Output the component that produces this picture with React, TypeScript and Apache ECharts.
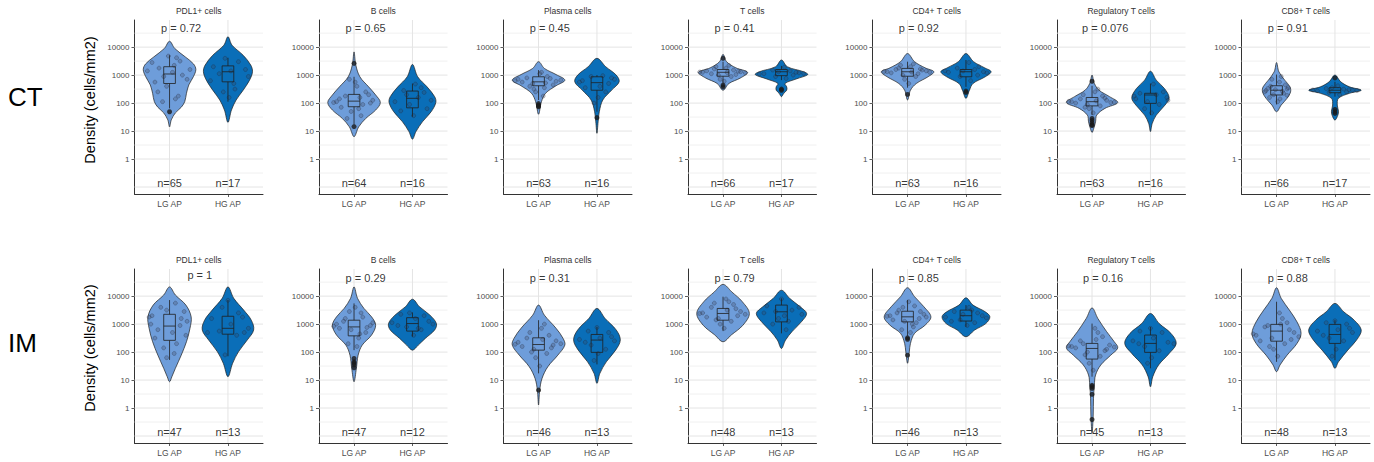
import React, { useEffect, useRef } from "react";
import * as echarts from "echarts";

// ---------- data ----------
const groups = ["LG AP", "HG AP"];
const regions = ["CT", "IM"];
const cellTypes = ["PDL1+ cells", "B cells", "Plasma cells", "T cells", "CD4+ T cells", "Regulatory T cells", "CD8+ T cells"];
const yTickValues = [0, 1, 2, 3, 4]; // log10 of density
const yTickLabels = ["1", "10", "100", "1000", "10000"];
const gridMajor = [-1, 0, 1, 2, 3, 4];
const gridMinor = [-0.5, 0.5, 1.5, 2.5, 3.5, 4.5];

const pLabelsCT = ["p = 0.72", "p = 0.65", "p = 0.45", "p = 0.41", "p = 0.92", "p = 0.076", "p = 0.91"];
const pLabelsIM = ["p = 1", "p = 0.29", "p = 0.31", "p = 0.79", "p = 0.85", "p = 0.16", "p = 0.88"];
const pPosCT = [[0.855, 4.67], [0.855, 4.67], [0.85, 4.67], [0.855, 4.67], [0.85, 4.67], [0.83, 4.67], [0.85, 4.67]];
const pPosIM = [[1.306, 4.77], [0.855, 4.64], [0.85, 4.64], [0.855, 4.64], [0.85, 4.64], [0.845, 4.64], [0.85, 4.64]];
const nCT = [[65, 17], [64, 16], [63, 16], [66, 17], [63, 16], [63, 16], [66, 17]];
const nIM = [[47, 13], [47, 12], [46, 13], [48, 13], [46, 13], [45, 13], [48, 13]];

// violin outlines: [log10 density, half width (x units)]
const violinCT = [
  [[[1.15,0],[1.4,0.03],[1.65,0.10],[1.85,0.20],[2.05,0.26],[2.35,0.29],[2.65,0.33],[2.95,0.41],[3.2,0.45],[3.4,0.41],[3.65,0.27],[3.95,0.09],[4.21,0]],
   [[1.31,0],[1.75,0.06],[2.11,0.14],[2.46,0.26],[2.82,0.37],[3.12,0.42],[3.36,0.39],[3.71,0.26],[4.07,0.07],[4.37,0]]],
  [[[0.80,0],[1.15,0.08],[1.45,0.20],[1.75,0.37],[2.02,0.45],[2.29,0.37],[2.58,0.25],[2.94,0.10],[3.36,0.03],[3.83,0]],
   [[0.71,0],[0.98,0.06],[1.33,0.17],[1.69,0.32],[2.02,0.40],[2.23,0.38],[2.58,0.25],[2.94,0.09],[3.38,0]]],
  [[[1.6,0],[2.05,0.05],[2.35,0.12],[2.62,0.30],[2.82,0.45],[3.02,0.30],[3.24,0.10],[3.48,0]],
   [[0.92,0],[1.33,0.02],[1.69,0.04],[2.11,0.10],[2.46,0.25],[2.76,0.38],[3.0,0.33],[3.30,0.15],[3.6,0]]],
  [[[2.46,0],[2.70,0.10],[2.90,0.30],[3.10,0.42],[3.26,0.22],[3.48,0.06],[3.74,0]],
   [[2.23,0],[2.35,0.04],[2.46,0.09],[2.58,0.09],[2.70,0.06],[2.86,0.25],[3.02,0.45],[3.12,0.38],[3.30,0.10],[3.54,0]]],
  [[[2.11,0],[2.46,0.05],[2.70,0.15],[2.94,0.35],[3.12,0.45],[3.26,0.30],[3.48,0.12],[3.77,0]],
   [[2.17,0],[2.46,0.06],[2.70,0.12],[2.94,0.33],[3.12,0.43],[3.26,0.32],[3.48,0.13],[3.77,0]]],
  [[[0.95,0],[1.10,0.03],[1.33,0.06],[1.57,0.08],[1.81,0.22],[2.02,0.44],[2.23,0.30],[2.46,0.12],[2.70,0.04],[3.0,0]],
   [[0.98,0],[1.27,0.03],[1.57,0.10],[1.93,0.25],[2.19,0.32],[2.52,0.24],[2.82,0.10],[3.14,0]]],
  [[[1.69,0],[1.93,0.08],[2.17,0.18],[2.40,0.24],[2.58,0.23],[2.82,0.14],[3.12,0.04],[3.45,0]],
   [[1.39,0],[1.57,0.05],[1.71,0.06],[1.93,0.04],[2.17,0.06],[2.35,0.25],[2.46,0.45],[2.58,0.25],[2.76,0.10],[3.0,0]]],
];
const violinIM = [
  [[[0.94,0],[1.12,0.04],[1.42,0.10],[1.89,0.20],[2.37,0.29],[2.85,0.35],[3.26,0.37],[3.68,0.28],[4.04,0.10],[4.33,0]],
   [[1.12,0],[1.6,0.08],[2.01,0.18],[2.43,0.33],[2.79,0.44],[3.14,0.40],[3.50,0.27],[3.92,0.10],[4.33,0]]],
  [[[0.94,0],[1.42,0.04],[1.89,0.07],[2.25,0.14],[2.61,0.30],[2.96,0.37],[3.26,0.30],[3.56,0.17],[3.92,0.06],[4.33,0]],
   [[2.07,0],[2.25,0.10],[2.49,0.22],[2.79,0.38],[3.02,0.41],[3.32,0.30],[3.62,0.12],[3.89,0]]],
  [[[0.11,0],[0.64,0.02],[1.06,0.06],[1.48,0.16],[1.89,0.33],[2.25,0.45],[2.49,0.42],[2.85,0.30],[3.32,0.10],[3.68,0]],
   [[0.88,0],[1.24,0.05],[1.65,0.16],[2.07,0.32],[2.43,0.40],[2.79,0.33],[3.20,0.14],[3.56,0]]],
  [[[2.37,0],[2.61,0.14],[2.96,0.34],[3.38,0.45],[3.80,0.33],[4.15,0.15],[4.42,0]],
   [[2.13,0],[2.43,0.07],[2.73,0.18],[3.08,0.34],[3.38,0.43],[3.62,0.32],[3.92,0.14],[4.21,0]]],
  [[[1.60,0],[2.01,0.03],[2.31,0.05],[2.67,0.12],[2.96,0.30],[3.26,0.40],[3.62,0.28],[3.98,0.12],[4.30,0]],
   [[2.55,0],[2.79,0.15],[3.02,0.34],[3.26,0.41],[3.44,0.33],[3.68,0.12],[3.94,0]]],
  [[[-0.89,0],[-0.25,0.02],[0.35,0.025],[0.82,0.04],[1.18,0.06],[1.54,0.15],[1.89,0.32],[2.15,0.44],[2.37,0.38],[2.73,0.25],[3.20,0.10],[3.58,0]],
   [[0.76,0],[1.12,0.04],[1.54,0.14],[1.95,0.32],[2.31,0.44],[2.67,0.35],[3.02,0.15],[3.38,0]]],
  [[[1.30,0],[1.54,0.06],[1.89,0.18],[2.31,0.35],[2.67,0.42],[3.08,0.35],[3.50,0.22],[3.92,0.08],[4.30,0]],
   [[1.42,0],[1.65,0.06],[2.07,0.22],[2.43,0.37],[2.79,0.45],[3.14,0.33],[3.44,0.15],[3.74,0]]],
];

// box stats: [lower whisker, q1, median, q3, upper whisker] (log10)
const boxCT = [
  [[1.81,2.70,3.04,3.30,3.71],[2.05,2.76,3.12,3.33,3.62]],
  [[1.25,1.87,2.07,2.31,2.94],[1.51,1.83,2.17,2.43,2.70]],
  [[2.11,2.62,2.76,2.94,3.18],[1.69,2.46,2.73,2.94,3.00]],
  [[2.70,2.96,3.10,3.20,3.48],[2.82,2.98,3.12,3.20,3.33]],
  [[2.55,2.96,3.12,3.24,3.48],[2.58,2.94,3.12,3.20,3.54]],
  [[1.57,1.90,2.05,2.20,2.62],[1.57,1.99,2.29,2.35,2.70]],
  [[1.95,2.29,2.46,2.62,3.02],[2.23,2.37,2.46,2.55,2.76]],
];
const boxIM = [
  [[1.72,2.42,2.93,3.35,3.86],[1.85,2.64,2.85,3.28,3.86]],
  [[2.07,2.58,2.90,3.14,3.74],[2.55,2.75,3.02,3.23,3.42]],
  [[1.24,2.07,2.27,2.51,3.14],[1.56,1.99,2.43,2.63,2.90]],
  [[2.75,3.14,3.38,3.56,3.98],[2.67,3.08,3.44,3.68,3.92]],
  [[2.58,3.08,3.26,3.46,3.86],[2.90,3.11,3.30,3.50,3.68]],
  [[1.12,1.75,2.13,2.31,3.02],[1.42,1.99,2.31,2.61,2.90]],
  [[1.65,2.39,2.75,2.99,3.80],[1.71,2.31,2.63,2.99,3.14]],
];

const outliersCT = [
  [[1.69], []],
  [[3.42, 1.16], []],
  [[1.98, 1.93, 1.90, 1.87], [1.48]],
  [[3.60, 2.64, 2.58], [2.46, 2.50]],
  [[2.31], [2.43, 2.38]],
  [[2.78, 1.45, 1.38, 1.30, 1.23, 1.20], []],
  [[], [2.90, 1.77, 1.69, 1.63]],
];
const outliersIM = [
  [[], []],
  [[1.77, 1.65, 1.60, 1.54, 1.44], []],
  [[0.64], []],
  [[], []],
  [[2.51, 2.46, 1.89], []],
  [[0.81, 0.76, 0.70, 0.49, -0.41], []],
  [[], []],
];

// jittered observations: [x offset, log10 density]
const jitterCT = [
  [[[-0.30,3.45],[0.12,3.62],[0.35,3.20],[-0.18,3.25],[0.05,3.10],[-0.38,3.15],[0.22,3.00],[-0.10,2.95],[0.30,2.85],[-0.25,2.75],[0.08,3.35],[0.18,3.50],[-0.05,2.60],[-0.20,2.40],[0.15,2.25],[-0.12,2.05],[0.10,2.15],[-0.02,3.68]],
   [[-0.05,3.60],[0.18,3.48],[-0.25,3.30],[0.30,3.20],[0.05,3.15],[-0.15,3.05],[0.35,2.95],[-0.30,2.80],[0.10,2.70],[-0.08,2.40],[0.02,2.20],[0.12,2.50]]],
  [[[-0.30,2.05],[0.32,2.10],[-0.15,2.25],[0.20,2.40],[0.05,2.60],[-0.08,2.85],[0.15,1.95],[-0.22,1.85],[0.28,2.00],[-0.35,2.02],[0.10,2.20],[-0.05,1.70],[0.12,1.55],[-0.12,1.45],[0.02,2.75],[0.25,2.30],[-0.25,2.15],[0.08,1.80]],
   [[0.05,2.68],[-0.15,2.45],[0.20,2.38],[0.32,2.10],[-0.30,2.05],[0.10,2.20],[-0.05,1.95],[0.25,1.80],[-0.20,1.72],[0.02,1.55],[0.15,2.55],[-0.10,2.30]]],
  [[[-0.35,2.85],[0.30,2.78],[-0.20,2.90],[0.15,2.95],[0.05,3.10],[-0.10,2.70],[0.25,2.65],[-0.28,2.75],[0.38,2.82],[0.10,2.55],[-0.05,2.40],[0.08,2.25],[-0.15,2.60],[0.20,2.88],[-0.40,2.80],[0.02,3.05],[0.12,2.72],[-0.08,2.50]],
   [[0.10,2.98],[0.30,2.85],[-0.25,2.80],[0.20,2.70],[-0.10,2.95],[0.05,2.60],[-0.20,2.55],[0.15,2.40],[0.02,2.20],[-0.05,2.00],[0.25,2.90],[-0.30,2.75]]],
  [[[-0.35,3.10],[0.30,3.12],[-0.20,3.05],[0.18,3.18],[0.05,3.25],[-0.08,3.00],[0.22,3.02],[-0.28,3.15],[0.38,3.08],[0.10,3.35],[-0.05,2.85],[0.02,2.78],[-0.15,3.22],[0.14,2.95],[-0.40,3.11],[0.26,3.14],[-0.12,3.30],[0.07,3.09]],
   [[0.30,3.08],[-0.30,3.05],[0.15,3.15],[-0.15,3.18],[0.05,3.28],[0.20,3.00],[-0.10,2.95],[0.38,3.06],[-0.38,3.04],[0.08,2.88],[-0.05,3.12],[0.25,3.10]]],
  [[[-0.35,3.12],[0.32,3.15],[-0.20,3.20],[0.18,3.05],[0.05,3.30],[-0.08,3.00],[0.25,3.18],[-0.28,3.08],[0.38,3.10],[0.10,3.40],[-0.05,2.85],[0.02,2.70],[-0.15,3.25],[0.14,2.95],[-0.40,3.13],[0.22,3.22],[-0.12,3.35],[0.07,3.11]],
   [[0.30,3.12],[-0.30,3.10],[0.15,3.20],[-0.15,3.25],[0.05,3.45],[0.20,3.00],[-0.10,2.95],[0.36,3.08],[-0.36,3.15],[0.08,2.80],[-0.05,3.15],[0.22,3.30]]],
  [[[-0.35,2.05],[0.32,2.02],[-0.20,2.15],[0.18,2.25],[0.05,2.40],[-0.08,1.95],[0.25,2.10],[-0.28,2.00],[0.38,2.03],[0.10,2.50],[-0.05,1.80],[0.02,1.65],[-0.15,2.30],[0.14,1.90],[-0.40,2.06],[0.22,2.18],[-0.12,1.85],[0.07,2.08]],
   [[0.05,2.68],[0.22,2.40],[-0.18,2.35],[0.28,2.20],[-0.25,2.15],[0.10,2.30],[-0.05,2.05],[0.15,1.95],[-0.10,1.80],[0.02,1.65],[0.30,2.10],[-0.28,2.25]]],
  [[[-0.18,2.45],[0.18,2.50],[-0.10,2.60],[0.12,2.35],[0.05,2.75],[-0.05,2.30],[0.20,2.55],[-0.20,2.40],[0.08,2.95],[-0.12,2.20],[0.02,2.05],[0.15,2.65],[-0.15,2.52],[0.10,2.42],[-0.08,2.85],[0.18,2.28],[-0.02,2.48],[0.06,2.15]],
   [[0.30,2.46],[-0.30,2.44],[0.15,2.50],[-0.15,2.52],[0.05,2.62],[0.20,2.40],[-0.10,2.38],[0.38,2.45],[-0.38,2.47],[0.08,2.30],[-0.05,2.55],[0.24,2.48]]],
];
const jitterIM = [
  [[[-0.30,3.30],[0.25,3.45],[-0.15,3.60],[0.10,3.75],[-0.05,3.50],[0.30,3.10],[-0.32,3.00],[0.18,2.95],[-0.20,2.80],[0.05,2.70],[0.28,2.60],[-0.25,2.50],[0.12,2.30],[-0.10,2.15],[0.08,1.95],[-0.05,1.80],[0.20,3.20],[-0.35,3.25]],
   [[0.0,3.85],[-0.10,3.60],[0.18,3.40],[-0.28,3.20],[0.25,3.25],[0.05,3.00],[-0.35,2.70],[0.35,2.85],[0.15,2.60],[-0.15,2.75],[0.28,2.70],[-0.05,1.90]]],
  [[[-0.30,3.00],[0.28,2.95],[-0.15,3.20],[0.12,3.40],[0.02,3.60],[-0.05,2.80],[0.20,2.70],[-0.25,2.85],[0.32,3.05],[0.08,2.50],[-0.10,2.30],[0.05,2.20],[-0.18,3.10],[0.15,3.25],[-0.35,2.92],[0.22,2.88],[-0.08,3.45],[0.10,2.65]],
   [[-0.20,3.35],[0.20,3.30],[-0.35,3.05],[0.35,3.00],[0.05,3.20],[-0.10,2.90],[0.15,2.80],[-0.25,2.95],[0.28,3.10],[0.02,2.60],[-0.05,3.40],[0.10,2.85]]],
  [[[-0.35,2.35],[0.30,2.40],[-0.20,2.50],[0.18,2.60],[0.05,2.85],[-0.08,2.10],[0.25,2.25],[-0.28,2.20],[0.38,2.30],[0.10,3.00],[-0.05,1.80],[0.02,1.50],[-0.15,2.70],[0.14,1.95],[-0.40,2.28],[0.22,2.15],[-0.12,2.00],[0.07,2.45]],
   [[0.0,2.88],[-0.15,2.75],[0.20,2.70],[-0.30,2.45],[0.30,2.40],[0.05,2.50],[-0.10,2.25],[0.15,2.10],[0.02,1.95],[-0.20,2.35],[0.25,2.55],[-0.05,1.70]]],
  [[[-0.35,3.40],[0.30,3.45],[-0.20,3.60],[0.18,3.70],[0.05,3.90],[-0.08,3.20],[0.25,3.30],[-0.28,3.25],[0.38,3.35],[0.10,3.80],[-0.05,3.00],[0.02,2.85],[-0.15,3.75],[0.14,3.10],[-0.40,3.38],[0.22,3.55],[-0.12,3.15],[0.07,3.50]],
   [[0.0,3.90],[0.30,3.60],[-0.25,3.65],[0.18,3.50],[-0.10,3.45],[0.05,3.30],[-0.30,3.40],[0.35,3.35],[0.12,3.10],[-0.15,3.00],[0.08,2.80],[-0.05,3.20]]],
  [[[-0.30,3.30],[0.28,3.35],[-0.15,3.50],[0.12,3.65],[0.02,3.80],[-0.05,3.10],[0.20,3.20],[-0.25,3.15],[0.32,3.25],[0.08,3.00],[-0.10,2.80],[0.05,2.70],[-0.18,3.40],[0.15,3.05],[-0.35,3.28],[0.22,3.45],[-0.08,3.60],[0.10,2.90]],
   [[-0.20,3.45],[0.20,3.40],[-0.35,3.25],[0.35,3.22],[0.05,3.60],[-0.10,3.15],[0.15,3.05],[-0.25,3.10],[0.28,3.30],[0.02,2.95],[-0.05,3.35],[0.10,3.50]]],
  [[[-0.35,2.20],[0.30,2.25],[-0.20,2.40],[0.18,2.55],[0.05,2.85],[-0.08,2.00],[0.25,2.10],[-0.28,2.15],[0.38,2.18],[0.10,2.70],[-0.05,1.60],[0.02,1.35],[-0.15,2.30],[0.14,1.85],[-0.40,2.22],[0.22,2.05],[-0.12,1.90],[0.07,2.45]],
   [[0.0,2.85],[-0.18,2.75],[0.20,2.70],[-0.30,2.40],[0.30,2.35],[0.05,2.50],[-0.10,2.20],[0.15,2.05],[0.02,1.80],[-0.20,2.30],[0.40,2.30],[-0.05,1.60]]],
  [[[-0.35,2.60],[0.30,2.70],[-0.20,2.90],[0.18,3.05],[0.05,3.40],[-0.08,2.50],[0.25,2.45],[-0.28,2.40],[0.38,2.55],[0.10,3.20],[-0.05,2.10],[0.02,1.85],[-0.15,2.95],[0.14,2.30],[-0.40,2.65],[0.22,2.80],[-0.12,2.20],[0.07,3.00]],
   [[0.0,3.12],[-0.15,3.05],[0.20,3.00],[-0.30,2.75],[0.30,2.70],[0.05,2.80],[-0.10,2.50],[0.15,2.40],[0.02,2.10],[-0.20,2.60],[0.25,2.85],[-0.05,1.85]]],
];

// ---------- layout / style ----------
const PANEL_LEFT0 = 134.5;
const PANEL_STEP = 184.5;
const PANEL_W = 128.5;
const PANEL_H = 174;
const ROW_TOP = [20, 269];
const X_MIN = 0.4, X_MAX = 2.6, Y_MIN = -1.25, Y_MAX = 4.97;
const FILLS = ["#6e9dda", "#0a6eb8"];
const FONT = "Liberation Sans, Arial, Helvetica, sans-serif";

export default function App() {
  const ref = useRef<HTMLDivElement>(null);

  useEffect(() => {
    if (!ref.current) return;
    const chart = echarts.init(ref.current, undefined, { renderer: "svg" });

    const grids: any[] = [];
    const xAxes: any[] = [];
    const yAxes: any[] = [];
    const series: any[] = [];
    const graphics: any[] = [];

    const rowData = [
      { violin: violinCT, box: boxCT, out: outliersCT, jit: jitterCT, p: pLabelsCT, pPos: pPosCT, n: nCT },
      { violin: violinIM, box: boxIM, out: outliersIM, jit: jitterIM, p: pLabelsIM, pPos: pPosIM, n: nIM },
    ];

    let k = 0;
    for (let r = 0; r < 2; r++) {
      const rd = rowData[r];
      for (let c = 0; c < cellTypes.length; c++) {
        const left = PANEL_LEFT0 + c * PANEL_STEP;
        const top = ROW_TOP[r];
        grids.push({ left, top, width: PANEL_W, height: PANEL_H, containLabel: false });
        xAxes.push({
          gridIndex: k, type: "value", min: X_MIN, max: X_MAX,
          axisLine: { show: true, onZero: false, lineStyle: { color: "#333", width: 1 } },
          axisTick: { show: true, customValues: [1, 2], length: 3, lineStyle: { color: "#333", width: 0.8 } },
          axisLabel: {
            show: true, customValues: [1, 2], margin: 5, fontSize: 8.5, color: "#4d4d4d", fontFamily: FONT,
            formatter: (v: number) => (Math.abs(v - 1) < 1e-6 ? groups[0] : Math.abs(v - 2) < 1e-6 ? groups[1] : ""),
          },
          splitLine: { show: false },
        });
        yAxes.push({
          gridIndex: k, type: "value", min: Y_MIN, max: Y_MAX,
          axisLine: { show: true, onZero: false, lineStyle: { color: "#333", width: 1 } },
          axisTick: { show: true, customValues: yTickValues, length: 3, lineStyle: { color: "#333", width: 0.8 } },
          axisLabel: {
            show: true, customValues: yTickValues, margin: 5, fontSize: 8, color: "#4d4d4d", fontFamily: FONT,
            formatter: (v: number) => {
              const i = yTickValues.findIndex((t) => Math.abs(t - v) < 1e-6);
              return i >= 0 ? yTickLabels[i] : "";
            },
          },
          splitLine: { show: false },
        });

        // gridlines
        const gl: number[][] = [];
        gridMajor.forEach((v) => gl.push([1, v, 1]));
        gridMinor.forEach((v) => gl.push([1, v, 0]));
        gl.push([1, 0, 2]);
        gl.push([2, 0, 2]);
        series.push({
          type: "custom", xAxisIndex: k, yAxisIndex: k, silent: true, z: 1,
          data: gl,
          renderItem: (_p: any, api: any) => {
            const kind = api.value(2);
            if (kind === 2) {
              const x = api.value(0);
              const a = api.coord([x, Y_MIN]);
              const b = api.coord([x, Y_MAX]);
              return { type: "line", shape: { x1: a[0], y1: a[1], x2: b[0], y2: b[1] }, style: { stroke: "#e4e4e4", lineWidth: 1 } };
            }
            const v = api.value(1);
            const a = api.coord([X_MIN, v]);
            const b = api.coord([X_MAX, v]);
            return {
              type: "line", shape: { x1: a[0], y1: a[1], x2: b[0], y2: b[1] },
              style: { stroke: kind === 1 ? "#e4e4e4" : "#ececec", lineWidth: kind === 1 ? 1 : 0.8 },
            };
          },
        });

        // violins
        const prof = rd.violin[c];
        series.push({
          type: "custom", xAxisIndex: k, yAxisIndex: k, silent: true, z: 2,
          data: [[1, 0], [2, 0]],
          renderItem: (_p: any, api: any) => {
            const cx = api.value(0);
            const gi = Math.round(cx) - 1;
            const pr = prof[gi];
            const leftPts = pr.map(([ly, hw]: number[]) => api.coord([cx - hw, ly]));
            const rightPts = pr
              .slice()
              .reverse()
              .filter((p: number[]) => p[1] > 0)
              .map(([ly, hw]: number[]) => api.coord([cx + hw, ly]));
            return {
              type: "polygon",
              shape: { points: leftPts.concat(rightPts), smooth: 0.35 },
              style: { fill: FILLS[gi], stroke: "#1f1f1f", lineWidth: 0.7 },
            };
          },
        });

        // jitter points
        const jd: number[][] = [];
        rd.jit[c].forEach((arr: number[][], gi: number) => arr.forEach(([dx, ly]) => jd.push([gi + 1 + dx, ly])));
        series.push({
          type: "scatter", xAxisIndex: k, yAxisIndex: k, silent: true, z: 3,
          symbolSize: 4, data: jd,
          itemStyle: { color: "rgba(60,65,85,0.33)", borderColor: "rgba(30,35,50,0.55)", borderWidth: 0.6 },
        });

        // boxes
        const bx = rd.box[c];
        series.push({
          type: "custom", xAxisIndex: k, yAxisIndex: k, silent: true, z: 4,
          data: [[1, 0], [2, 0]],
          renderItem: (_p: any, api: any) => {
            const cx = api.value(0);
            const gi = Math.round(cx) - 1;
            const [lo, q1, med, q3, hi] = bx[gi];
            const hw = 0.1;
            const a = api.coord([cx - hw, q3]);
            const b = api.coord([cx + hw, q1]);
            const m1 = api.coord([cx - hw, med]);
            const m2 = api.coord([cx + hw, med]);
            const t1 = api.coord([cx, q3]);
            const t2 = api.coord([cx, hi]);
            const b1 = api.coord([cx, q1]);
            const b2 = api.coord([cx, lo]);
            const st = { stroke: "#1f1f1f", lineWidth: 0.8, fill: "none" };
            return {
              type: "group",
              children: [
                { type: "line", shape: { x1: t1[0], y1: t1[1], x2: t2[0], y2: t2[1] }, style: st },
                { type: "line", shape: { x1: b1[0], y1: b1[1], x2: b2[0], y2: b2[1] }, style: st },
                { type: "rect", shape: { x: a[0], y: a[1], width: b[0] - a[0], height: b[1] - a[1] }, style: st },
                { type: "line", shape: { x1: m1[0], y1: m1[1], x2: m2[0], y2: m2[1] }, style: st },
              ],
            };
          },
        });

        // outliers
        const od: number[][] = [];
        rd.out[c].forEach((arr: number[], gi: number) => arr.forEach((v) => od.push([gi + 1, v])));
        series.push({
          type: "scatter", xAxisIndex: k, yAxisIndex: k, silent: true, z: 5,
          symbolSize: 5, data: od, itemStyle: { color: "#1a1a1a" },
        });

        // text labels (n and p)
        const lab = { show: true, formatter: "{b}", position: "inside", color: "#000", fontSize: 11, fontFamily: FONT, verticalAlign: "middle" };
        series.push({
          type: "scatter", xAxisIndex: k, yAxisIndex: k, silent: true, z: 6,
          symbolSize: 0, itemStyle: { color: "transparent" },
          data: [
            { name: "n=" + rd.n[c][0], value: [1, -0.87], label: { ...lab, align: "center" } },
            { name: "n=" + rd.n[c][1], value: [2, -0.87], label: { ...lab, align: "center" } },
            { name: rd.p[c], value: rd.pPos[c], label: { ...lab, align: "left" } },
          ],
        });

        // panel title
        graphics.push({
          type: "text", x: left + PANEL_W / 2, y: top - 9,
          style: { text: cellTypes[c], fontSize: 8.5, fill: "#333", align: "center", verticalAlign: "middle", fontFamily: FONT },
        });
        k++;
      }
      // region label + y axis title
      graphics.push({
        type: "text", x: 8, y: r === 0 ? 97 : 343,
        style: { text: regions[r], fontSize: 26, fill: "#000", align: "left", verticalAlign: "middle", fontFamily: FONT },
      });
      graphics.push({
        type: "text", x: 90, y: r === 0 ? 100 : 348, rotation: Math.PI / 2,
        style: { text: "Density (cells/mm2)", fontSize: 14.5, fill: "#000", align: "center", verticalAlign: "middle", fontFamily: FONT },
      });
    }

    chart.setOption({
      animation: false,
      backgroundColor: "#ffffff",
      textStyle: { fontFamily: FONT },
      grid: grids,
      xAxis: xAxes,
      yAxis: yAxes,
      series,
      graphic: graphics,
    });

    return () => chart.dispose();
  }, []);

  return <div ref={ref} style={{ position: "fixed", left: 0, top: 0, width: 1374, height: 462 }} />;
}
